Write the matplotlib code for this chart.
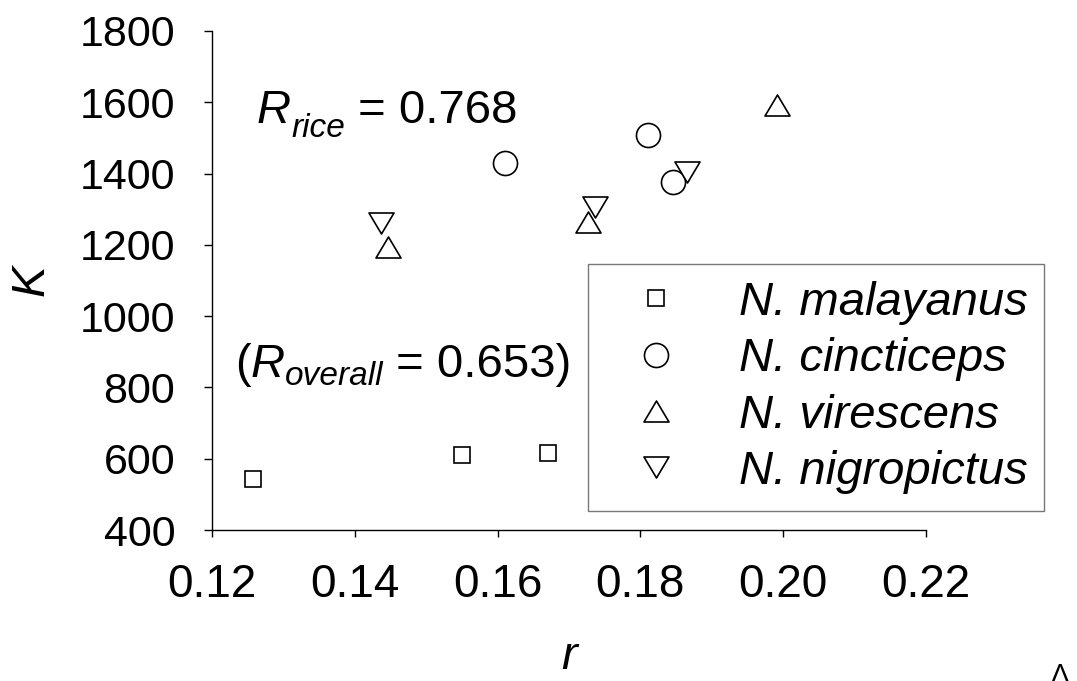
import matplotlib
matplotlib.use("Agg")
import matplotlib.pyplot as plt
from matplotlib.path import Path

plt.rcParams['font.family'] = ['Liberation Sans', 'DejaVu Sans']

# intrinsic rate of increase (r) vs carrying capacity (K) per species
species = ['N. malayanus', 'N. cincticeps', 'N. virescens', 'N. nigropictus']

r_malayanus = [0.1258, 0.1550, 0.1670]
K_malayanus = [543, 610, 615]

r_cincticeps = [0.1611, 0.1810, 0.1846]
K_cincticeps = [1431, 1507, 1376]

r_virescens = [0.1446, 0.1727, 0.1991]
K_virescens = [1194, 1264, 1592]

r_nigropictus = [0.1436, 0.1737, 0.1865]
K_nigropictus = [1260, 1306, 1404]

R_rice = 0.768
R_overall = 0.653

x_ticks = [0.12, 0.14, 0.16, 0.18, 0.20, 0.22]
y_ticks = [400, 600, 800, 1000, 1200, 1400, 1600, 1800]

# slightly flattened triangles
tri_up = [(-1, -0.84), (1, -0.84), (0, 0.84)]
tri_dn = [(-1, 0.84), (1, 0.84), (0, -0.84)]
up_marker = Path(tri_up + [tri_up[0]], closed=True)
dn_marker = Path(tri_dn + [tri_dn[0]], closed=True)

fig = plt.figure(figsize=(10.77, 6.81), dpi=100)
ax = fig.add_axes([212/1077, 1 - 530/681, 714/1077, 499/681])

style = dict(ls='none', mfc='white', mec='black', mew=1.2)
ax.plot(r_malayanus, K_malayanus, marker='s', ms=12.2, label=species[0], **style)
ax.plot(r_cincticeps, K_cincticeps, marker='o', ms=17.3, label=species[1], **style)
ax.plot(r_virescens, K_virescens, marker=up_marker, ms=18, label=species[2], **style)
ax.plot(r_nigropictus, K_nigropictus, marker=dn_marker, ms=18, label=species[3], **style)

ax.set_xlim(0.12, 0.22)
ax.set_ylim(400, 1800)
ax.set_xticks(x_ticks)
ax.set_xticklabels([f'{v:.2f}' for v in x_ticks], fontsize=33)
ax.set_yticks(y_ticks)
ax.set_yticklabels([str(v) for v in y_ticks], fontsize=31)
ax.tick_params(axis='x', direction='out', length=5, width=1, pad=19)
ax.tick_params(axis='y', direction='out', length=5.5, width=1, pad=21)

for side in ['top', 'right']:
    ax.spines[side].set_visible(False)
for side in ['left', 'bottom']:
    ax.spines[side].set_linewidth(1)

ax.set_xlabel('r', fontsize=34, style='italic')
ax.xaxis.set_label_coords(0.5, -0.21)
ax.set_ylabel('K', fontsize=34, style='italic')
ax.yaxis.set_label_coords(-0.222, 0.5)


def r_label(x, y, prefix, sub, suffix, drop):
    # "R" with a dropped italic subscript, then the value, all on one baseline
    if prefix:
        t0 = ax.text(x, y, prefix, fontsize=34, ha='left', va='baseline')
        t1 = ax.annotate('R', xy=(1, 0), xycoords=t0, xytext=(0, 7.3),
                         textcoords='offset points', fontsize=34,
                         style='italic', ha='left', va='baseline')
    else:
        t1 = ax.text(x, y, 'R', fontsize=34, style='italic',
                     ha='left', va='baseline')
    t2 = ax.annotate(sub, xy=(1, 0), xycoords=t1, xytext=(0, 7.3 - drop),
                     textcoords='offset points', fontsize=24, style='italic',
                     ha='left', va='baseline')
    ax.annotate(suffix, xy=(1, 0), xycoords=t2, xytext=(0, 5.2 + drop),
                textcoords='offset points', fontsize=34,
                ha='left', va='baseline')


r_label(0.1263, 1542, '', 'rice', f' = {R_rice:.3f}', 10)
r_label(0.1232, 829, '(', 'overall', f' = {R_overall:.3f})', 6)

leg = ax.legend(loc='upper left', bbox_to_anchor=(588/1077, 1 - 264/681),
                bbox_transform=fig.transFigure,
                prop={'style': 'italic', 'size': 34},
                frameon=True, fancybox=False, borderpad=0.36,
                handlelength=2.15, handletextpad=0.68, labelspacing=0.26,
                borderaxespad=0, numpoints=1)
leg.get_frame().set_edgecolor('#555555')
leg.get_frame().set_linewidth(1.0)

fig.text(1060/1077, 0.026, 'Λ', fontsize=20, ha='center', va='top')

fig.savefig('out.png', dpi=100)
